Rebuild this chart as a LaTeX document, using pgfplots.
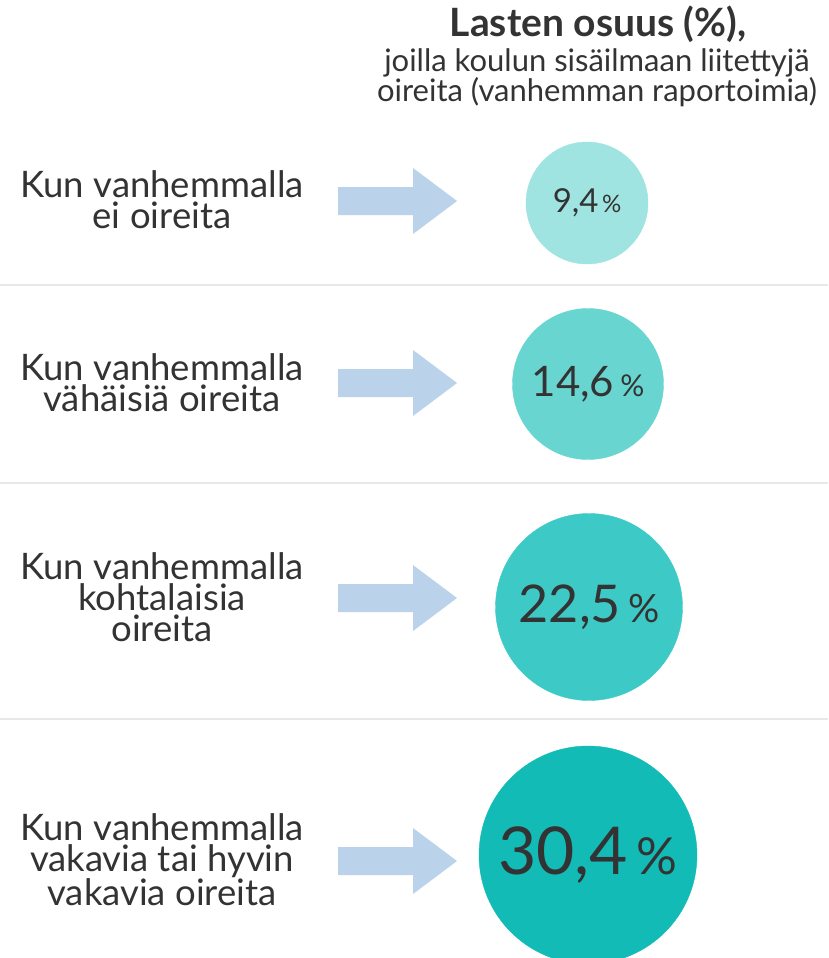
\documentclass[border=0pt]{standalone}
\usepackage{pgfplots}
\pgfplotsset{compat=1.18}
\usepackage{fontspec}
\setmainfont{Lato}
\definecolor{c1}{HTML}{A0E4E1}
\definecolor{c2}{HTML}{68D5D1}
\definecolor{c3}{HTML}{3DCAC6}
\definecolor{c4}{HTML}{12BBB6}
\definecolor{arr}{HTML}{BAD2EA}
\definecolor{sep}{HTML}{E8E8E8}
\definecolor{txt}{HTML}{333333}
\newcommand{\fs}[2]{\fontsize{#1}{#2}\selectfont}
\begin{document}
\begin{tikzpicture}
\begin{axis}[x=1pt,y=1pt,y dir=reverse,
  xmin=0,xmax=828,ymin=0,ymax=958,
  hide axis, clip marker paths=true,
  /pgf/number format/assume math mode=true,
  point meta=explicit,
  every node near coord/.append style={anchor=center,text=txt,inner sep=0pt},
]
\path (axis cs:0,0) rectangle (axis cs:828,958);
% separators
\addplot[sep,line width=2pt] coordinates {(0,285) (828,285)};
\addplot[sep,line width=2pt] coordinates {(0,483) (828,483)};
\addplot[sep,line width=2pt] coordinates {(0,719) (828,719)};
% arrows
\addplot[fill=arr,draw=none] coordinates {(338,187)(413,187)(413,168)(457,201)(413,234)(413,215)(338,215)} -- cycle;
\addplot[fill=arr,draw=none] coordinates {(338,369)(413,369)(413,350)(457,383)(413,416)(413,397)(338,397)} -- cycle;
\addplot[fill=arr,draw=none] coordinates {(338,584)(413,584)(413,565)(457,598)(413,631)(413,612)(338,612)} -- cycle;
\addplot[fill=arr,draw=none] coordinates {(338,847)(413,847)(413,828)(457,861)(413,894)(413,875)(338,875)} -- cycle;
% circles
\addplot[c1,only marks,mark=*,mark size=61pt,mark options={fill=c1,draw=c1},
  nodes near coords={\fs{33}{33}\pgfmathprintnumber[fixed,precision=1,fixed zerofill,use comma]{\pgfplotspointmeta}\hspace{3.5pt}{\fs{24}{24}\%}}]
  coordinates {(587,203) [9.4]};
\addplot[c2,only marks,mark=*,mark size=75.5pt,mark options={fill=c2,draw=c2},
  nodes near coords={\fs{42}{42}\pgfmathprintnumber[fixed,precision=1,fixed zerofill,use comma]{\pgfplotspointmeta}\hspace{6pt}{\fs{30}{30}\%}}]
  coordinates {(588,384) [14.6]};
\addplot[c3,only marks,mark=*,mark size=93.5pt,mark options={fill=c3,draw=c3},
  nodes near coords={\fs{52}{52}\pgfmathprintnumber[fixed,precision=1,fixed zerofill,use comma]{\pgfplotspointmeta}\hspace{7pt}{\fs{39}{39}\%}}]
  coordinates {(589,607) [22.5]};
\addplot[c4,only marks,mark=*,mark size=109pt,mark options={fill=c4,draw=c4},
  nodes near coords={\fs{66}{66}\pgfmathprintnumber[fixed,precision=1,fixed zerofill,use comma]{\pgfplotspointmeta}\hspace{9pt}{\fs{51}{51}\%}}]
  coordinates {(588,855) [30.4]};
% title
\node[text=txt,align=center,inner sep=0pt,font=\fs{39}{39}\bfseries] at (axis cs:598,24) {Lasten osuus (\%),};
\node[text=txt,align=center,inner sep=0pt,font=\fs{31}{30}] at (axis cs:597,78) {joilla koulun sisäilmaan liitettyjä\\oireita (vanhemman raportoimia)};
% labels
\node[text=txt,align=center,inner sep=0pt,font=\fs{36.5}{31}] at (axis cs:162,200) {Kun vanhemmalla\\ei oireita};
\node[text=txt,align=center,inner sep=0pt,font=\fs{36.5}{31}] at (axis cs:162,383) {Kun vanhemmalla\\vähäisiä oireita};
\node[text=txt,align=center,inner sep=0pt,font=\fs{36.5}{31}] at (axis cs:162,597) {Kun vanhemmalla\\kohtalaisia\\oireita};
\node[text=txt,align=center,inner sep=0pt,font=\fs{36.5}{31}] at (axis cs:162,860) {Kun vanhemmalla\\vakavia tai hyvin\\vakavia oireita};
\end{axis}
\end{tikzpicture}
\end{document}
